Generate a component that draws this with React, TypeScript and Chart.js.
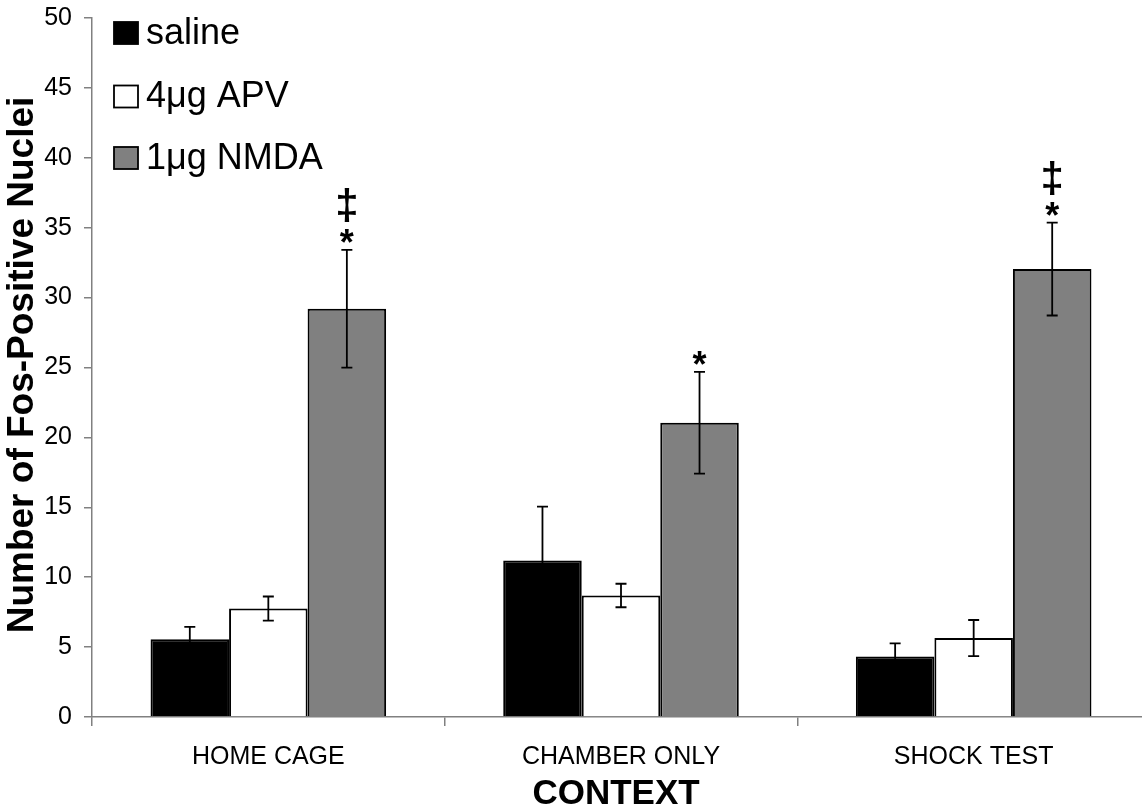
import React, { useEffect, useRef } from "react";
import { Chart, registerables } from "chart.js";

Chart.register(...registerables);

const categories = ["HOME CAGE", "CHAMBER ONLY", "SHOCK TEST"];
const seriesNames = ["saline", "4μg APV", "1μg NMDA"];
const seriesColors = ["#000000", "#ffffff", "#808080"];
const salineValues = [5.57, 11.19, 4.33];
const salineErrors = [0.88, 3.86, 0.93];
const apvValues = [7.76, 8.69, 5.65];
const apvErrors = [0.86, 0.84, 1.29];
const nmdaValues = [29.2, 21.05, 32.04];
const nmdaErrors = [4.21, 3.64, 3.32];
const significanceMarks = [["‡", "*"], ["*"], ["‡", "*"]];
const yMin = 0;
const yMax = 50;
const yStep = 5;
const yTitle = "Number of Fos-Positive Nuclei";
const xTitle = "CONTEXT";

const FONT = "'Liberation Sans', Arial, Helvetica, sans-serif";

function drawCenteredGlyph(ctx: CanvasRenderingContext2D, text: string, x: number, cy: number) {
  const m = ctx.measureText(text);
  const asc = m.actualBoundingBoxAscent;
  const desc = m.actualBoundingBoxDescent;
  ctx.fillText(text, x, cy + (asc - desc) / 2);
}

const overlayPlugin = {
  id: "overlay",
  afterDatasetsDraw(chart: any) {
    const ctx: CanvasRenderingContext2D = chart.ctx;
    const yScale = chart.scales.y;
    chart.data.datasets.forEach((ds: any, di: number) => {
      const meta = chart.getDatasetMeta(di);
      meta.data.forEach((bar: any, i: number) => {
        const v = ds.data[i];
        const e = ds.errors[i];
        const top = yScale.getPixelForValue(v + e);
        const bot = yScale.getPixelForValue(v - e);
        ctx.save();
        ctx.strokeStyle = "#000";
        ctx.lineWidth = 1.8;
        ctx.beginPath();
        ctx.moveTo(bar.x, top);
        ctx.lineTo(bar.x, bot);
        ctx.moveTo(bar.x - 5.5, top);
        ctx.lineTo(bar.x + 5.5, top);
        ctx.moveTo(bar.x - 5.5, bot);
        ctx.lineTo(bar.x + 5.5, bot);
        ctx.stroke();
        ctx.restore();
      });
    });
    // significance marks above the last series
    const lastIdx = chart.data.datasets.length - 1;
    const lastDs: any = chart.data.datasets[lastIdx];
    const lastMeta = chart.getDatasetMeta(lastIdx);
    ctx.save();
    ctx.fillStyle = "#000";
    ctx.textAlign = "center";
    ctx.textBaseline = "alphabetic";
    lastMeta.data.forEach((bar: any, i: number) => {
      const top = yScale.getPixelForValue(lastDs.data[i] + lastDs.errors[i]);
      const marks = significanceMarks[i];
      let cy = top - 14;
      for (let k = marks.length - 1; k >= 0; k--) {
        const mk = marks[k];
        ctx.font = mk === "*" ? `bold 36px ${FONT}` : `bold 42px ${FONT}`;
        drawCenteredGlyph(ctx, mk, bar.x, cy);
        cy -= 31;
      }
    });
    ctx.restore();
  },
  afterDraw(chart: any) {
    const ctx: CanvasRenderingContext2D = chart.ctx;
    ctx.save();
    // legend
    const legendCenters = [33, 96.5, 158];
    seriesNames.forEach((name, i) => {
      const cy = legendCenters[i];
      ctx.fillStyle = seriesColors[i];
      ctx.fillRect(114, cy - 11, 24, 22);
      ctx.strokeStyle = "#000";
      ctx.lineWidth = 1.8;
      ctx.strokeRect(114, cy - 11, 24, 22);
      ctx.fillStyle = "#000";
      ctx.font = `36px ${FONT}`;
      ctx.textAlign = "left";
      ctx.textBaseline = "middle";
      ctx.fillText(name, 146, cy + 1);
    });
    // axis titles
    ctx.fillStyle = "#000";
    ctx.font = `bold 37px ${FONT}`;
    ctx.textAlign = "center";
    ctx.textBaseline = "middle";
    ctx.save();
    ctx.translate(23, 365);
    ctx.rotate(-Math.PI / 2);
    ctx.fillText(yTitle, 0, 0);
    ctx.restore();
    ctx.font = `bold 35px ${FONT}`;
    ctx.fillText(xTitle, 616, 794);
    ctx.restore();
  },
};

export default function App() {
  const ref = useRef<HTMLCanvasElement>(null);
  useEffect(() => {
    if (!ref.current) return;
    const chart = new Chart(ref.current, {
      type: "bar",
      data: {
        labels: categories,
        datasets: [
          { label: seriesNames[0], data: salineValues, errors: salineErrors, backgroundColor: seriesColors[0] },
          { label: seriesNames[1], data: apvValues, errors: apvErrors, backgroundColor: seriesColors[1] },
          { label: seriesNames[2], data: nmdaValues, errors: nmdaErrors, backgroundColor: seriesColors[2] },
        ].map((d: any) => ({
          ...d,
          borderColor: "#000",
          borderWidth: 2,
          categoryPercentage: 0.668,
          barPercentage: 1.0,
        })) as any,
      },
      options: {
        animation: false,
        responsive: false,
        devicePixelRatio: 1,
        layout: { padding: { top: 18, left: 0, right: 0, bottom: 0 } },
        plugins: {
          legend: { display: false },
          tooltip: { enabled: false },
          title: { display: false },
        },
        scales: {
          x: {
            type: "category",
            grid: {
              display: true,
              drawOnChartArea: false,
              drawTicks: true,
              tickLength: 9,
              color: "#808080",
              lineWidth: 1.5,
              offset: true,
            },
            border: { display: true, color: "#808080", width: 1.5 },
            ticks: {
              color: "#000",
              font: { family: FONT, size: 25 },
              padding: 16,
              maxRotation: 0,
              autoSkip: false,
            },
            afterFit: (scale: any) => {
              scale.height = 92;
              scale.paddingLeft = 0;
              scale.paddingRight = 0;
            },
          },
          y: {
            type: "linear",
            min: yMin,
            max: yMax,
            ticks: {
              stepSize: yStep,
              color: "#000",
              font: { family: FONT, size: 25 },
              padding: 12,
            },
            grid: {
              display: true,
              drawOnChartArea: false,
              drawTicks: true,
              tickLength: 8,
              color: "#808080",
              lineWidth: 1.5,
            },
            border: { display: true, color: "#808080", width: 1.5 },
            afterFit: (scale: any) => {
              scale.width = 92;
              scale.paddingTop = 0;
              scale.paddingBottom = 0;
            },
          },
        },
      },
      plugins: [overlayPlugin],
    } as any);
    return () => chart.destroy();
  }, []);
  return (
    <div
      style={{
        position: "fixed",
        left: 0,
        top: 0,
        width: 1142,
        height: 809,
        overflow: "hidden",
        background: "#fff",
      }}
    >
      <canvas ref={ref} width={1150} height={809} style={{ display: "block", width: 1150, height: 809 }} />
    </div>
  );
}
